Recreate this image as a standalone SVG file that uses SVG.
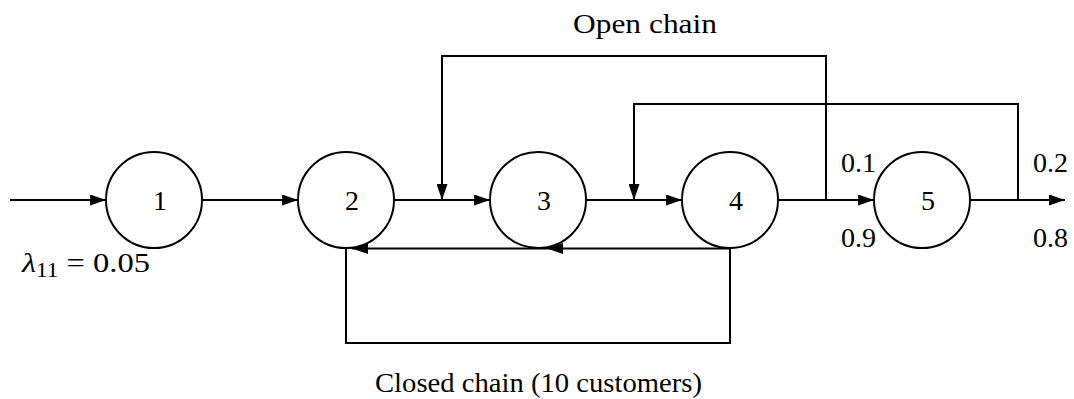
<svg xmlns="http://www.w3.org/2000/svg" width="1074" height="399" viewBox="0 0 1074 399" font-family="'Liberation Serif', 'DejaVu Serif', serif">
<defs>
<marker id="arr" markerUnits="userSpaceOnUse" markerWidth="16" markerHeight="11" viewBox="0 0 16 11" refX="16" refY="5.5" orient="auto">
<path d="M0,0 L16,5.5 L0,11 Z" fill="#000"/>
</marker>
<style>
.n{fill:#fff;stroke:#000;stroke-width:2}
.c{fill:none;stroke:#000;stroke-width:2}
.a{marker-end:url(#arr)}
text{font-family:'Liberation Serif','DejaVu Serif',serif;font-size:28px;fill:#000}
.lbl{text-anchor:middle;dominant-baseline:central}
</style>
</defs>
<rect width="1074" height="399" fill="#fff"/>
<g id="connectors">
<path class="c a" d="M10,200 H106"/>
<path class="c a" d="M202,200 H298"/>
<path class="c a" d="M394,200 H490"/>
<path class="c a" d="M586,200 H682"/>
<path class="c a" d="M778,200 H874"/>
<path class="c a" d="M970,200 H1065"/>
<path class="c a" d="M826,200 V56 H442 V200"/>
<path class="c a" d="M1018,200 V104 H634 V200"/>
<path class="c" d="M730,248 V343 H346 V248"/>
<path class="c a" d="M730,248.5 H547"/>
<path class="c a" d="M547,248.5 H352"/>
</g>
<g id="node1"><circle class="n" cx="154" cy="200" r="48"/><text class="lbl" x="160" y="200">1</text></g>
<g id="node2"><circle class="n" cx="346" cy="200" r="48"/><text class="lbl" x="352" y="200">2</text></g>
<g id="node3"><circle class="n" cx="538" cy="200" r="48"/><text class="lbl" x="544" y="200">3</text></g>
<g id="node4"><circle class="n" cx="730" cy="200" r="48"/><text class="lbl" x="736" y="200">4</text></g>
<g id="node5"><circle class="n" cx="922" cy="200" r="48"/><text class="lbl" x="928" y="200">5</text></g>
<g id="labels">
<text x="573" y="33" textLength="144" lengthAdjust="spacingAndGlyphs">Open chain</text>
<text x="375" y="392" textLength="327" lengthAdjust="spacingAndGlyphs">Closed chain (10 customers)</text>
<text x="22" y="272" textLength="128" lengthAdjust="spacingAndGlyphs"><tspan font-style="italic">λ</tspan><tspan font-size="20" dy="5">11</tspan><tspan dy="-5"> = 0.05</tspan></text>
<text x="841" y="172">0.1</text>
<text x="841" y="247">0.9</text>
<text x="1033" y="172">0.2</text>
<text x="1033" y="247">0.8</text>
</g>
</svg>
